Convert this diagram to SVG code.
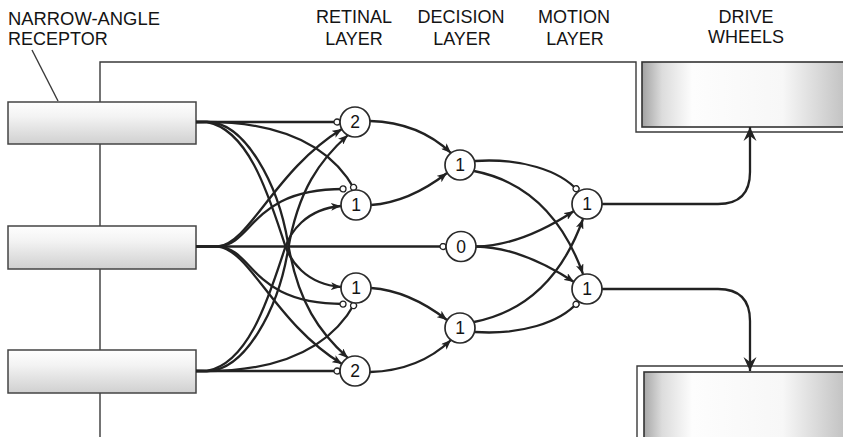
<svg xmlns="http://www.w3.org/2000/svg" width="843" height="437" viewBox="0 0 843 437">
  <style>
    .label { font-family: "Liberation Sans", Arial, sans-serif; font-size: 18px; fill: #141414; }
    .digit { font-family: "Liberation Sans", Arial, sans-serif; font-size: 17.5px; fill: #141414; text-anchor: middle; }
    .frame { fill: none; stroke: #3a3a3a; stroke-width: 1.4; }
    .receptor { fill: url(#receptorFill); stroke: #444; stroke-width: 1.5; }
    .wheel { fill: url(#wheelFill); stroke: #333; stroke-width: 1.6; }
    .neuron { fill: #fff; stroke: #2a2a2a; stroke-width: 1.7; }
    .wire { fill: none; stroke: #222; stroke-width: 2.3; }
    .exc { marker-end: url(#arrow); }
    .inh { marker-end: url(#inhibit); }
    .out { marker-end: url(#bigArrow); }
  </style>
  <defs>
    <linearGradient id="receptorFill" x1="0" y1="0" x2="0" y2="1">
      <stop offset="0" stop-color="#fefefe"/>
      <stop offset="0.35" stop-color="#f3f3f3"/>
      <stop offset="1" stop-color="#d0d0d0"/>
    </linearGradient>
    <linearGradient id="wheelFill" gradientUnits="userSpaceOnUse" x1="642" y1="0" x2="843" y2="0">
      <stop offset="0" stop-color="#a2a2a2"/>
      <stop offset="0.1" stop-color="#dcdcdc"/>
      <stop offset="0.25" stop-color="#fdfdfd"/>
      <stop offset="0.7" stop-color="#f7f7f7"/>
      <stop offset="1" stop-color="#c4c4c4"/>
    </linearGradient>
    <marker id="arrow" viewBox="0 0 10 8" markerWidth="10" markerHeight="8" refX="10" refY="4" orient="auto" markerUnits="userSpaceOnUse">
      <path d="M0,0 L10,4 L0,8 L2.5,4 Z" fill="#222"/>
    </marker>
    <marker id="bigArrow" viewBox="0 0 14 14" markerWidth="14" markerHeight="14" refX="14" refY="7" orient="auto" markerUnits="userSpaceOnUse">
      <path d="M0,0.5 L14,7 L0,13.5 L5,7 Z" fill="#222"/>
    </marker>
    <marker id="inhibit" viewBox="0 0 8 8" markerWidth="8" markerHeight="8" refX="7" refY="4" orient="auto" markerUnits="userSpaceOnUse">
      <circle cx="4" cy="4" r="3" fill="#fff" stroke="#222" stroke-width="1.3"/>
    </marker>
  </defs>

  <rect width="843" height="437" fill="#fff"/>

  <!-- labels -->
  <g id="labels">
    <text class="label" x="8" y="25" style="font-size:18.4px">NARROW-ANGLE</text>
    <text class="label" x="8" y="45">RECEPTOR</text>
    <text class="label" x="354" y="23" text-anchor="middle">RETINAL</text>
    <text class="label" x="354" y="45" text-anchor="middle">LAYER</text>
    <text class="label" x="461" y="23" text-anchor="middle">DECISION</text>
    <text class="label" x="462" y="45" text-anchor="middle">LAYER</text>
    <text class="label" x="574" y="23" text-anchor="middle">MOTION</text>
    <text class="label" x="575" y="45" text-anchor="middle">LAYER</text>
    <text class="label" x="746" y="23" text-anchor="middle">DRIVE</text>
    <text class="label" x="746" y="43" text-anchor="middle">WHEELS</text>
    <line x1="32" y1="50" x2="58" y2="101" stroke="#3a3a3a" stroke-width="1.4"/>
  </g>

  <!-- vehicle body outline -->
  <g id="body">
    <path class="frame" d="M100,437 V62 H636 V132 H843"/>
    <path class="frame" d="M637,437 V366 H843"/>
  </g>

  <!-- receptors -->
  <g id="receptor-top"><rect class="receptor" x="8" y="102" width="188" height="42"/></g>
  <g id="receptor-middle"><rect class="receptor" x="8" y="226" width="188" height="43"/></g>
  <g id="receptor-bottom"><rect class="receptor" x="8" y="350" width="188" height="43"/></g>

  <!-- drive wheels -->
  <g id="wheel-top"><rect class="wheel" x="642" y="62" width="210" height="65"/></g>
  <g id="wheel-bottom"><rect class="wheel" x="644" y="372" width="210" height="80"/></g>

  <g id="connectors">
    <!-- receptors to retinal layer -->
    <path class="wire inh" d="M196,122 H340"/>
    <path class="wire inh" d="M196,371 H340"/>
    <path class="wire inh" d="M196,122 C280,120 330,145 355,190"/>
    <path class="wire inh" d="M196,371 C280,373 330,348 355,303"/>
    <path class="wire inh" d="M196,246.5 H218 C255,244 250,188 346,189"/>
    <path class="wire inh" d="M196,246.5 H218 C255,249 250,305 346,304"/>
    <path class="wire exc" d="M218,246.5 C250,243 275,170 342,129"/>
    <path class="wire exc" d="M218,246.5 C250,250 275,323 342,364"/>
    <path class="wire exc" d="M196,371 H208 C245,370 278,310 288,250 C298,190 320,160 348,135"/>
    <path class="wire exc" d="M196,122 H208 C245,123 278,183 288,243 C298,303 320,333 348,358"/>
    <path class="wire exc" d="M196,122 H207 C250,130 270,200 285,245 C290,260 305,284 341,287"/>
    <path class="wire exc" d="M196,371 H207 C250,363 270,293 285,248 C290,233 305,209 341,206"/>
    <path class="wire inh" d="M196,246.5 H446"/>
    <!-- retinal to decision layer -->
    <path class="wire exc" d="M370,121 C405,122 430,133 451,153"/>
    <path class="wire exc" d="M370,372 C405,371 430,360 451,340"/>
    <path class="wire exc" d="M371,205 C400,203 425,190 447,173"/>
    <path class="wire exc" d="M371,288 C400,290 425,303 447,320"/>
    <!-- decision to motion layer -->
    <path class="wire inh" d="M475,161 C520,158 560,170 578,191"/>
    <path class="wire inh" d="M475,332 C520,335 560,323 578,302"/>
    <path class="wire exc" d="M474,171 C520,180 560,210 583,274"/>
    <path class="wire exc" d="M474,322 C520,313 560,283 583,219"/>
    <path class="wire exc" d="M476,246.5 C510,246 545,230 574,211"/>
    <path class="wire exc" d="M476,246.5 C510,247 545,263 574,282"/>
    <!-- motion layer to drive wheels -->
    <path class="wire out" d="M602,204 H718 Q750,204 750,172 V127"/>
    <path class="wire out" d="M602,289 H718 Q750,289 750,321 V371"/>
  </g>

  <!-- retinal layer -->
  <g id="retinal-1"><circle class="neuron" cx="355" cy="122" r="15"/><text class="digit" x="355" y="128">2</text></g>
  <g id="retinal-2"><circle class="neuron" cx="356" cy="205" r="15"/><text class="digit" x="356" y="211">1</text></g>
  <g id="retinal-3"><circle class="neuron" cx="356" cy="288" r="15"/><text class="digit" x="356" y="294">1</text></g>
  <g id="retinal-4"><circle class="neuron" cx="355" cy="371" r="15"/><text class="digit" x="355" y="377">2</text></g>
  <!-- decision layer -->
  <g id="decision-1"><circle class="neuron" cx="460" cy="165" r="15"/><text class="digit" x="460" y="171">1</text></g>
  <g id="decision-0"><circle class="neuron" cx="461" cy="246.5" r="15"/><text class="digit" x="461" y="252.5">0</text></g>
  <g id="decision-2"><circle class="neuron" cx="460" cy="328" r="15"/><text class="digit" x="460" y="334">1</text></g>
  <!-- motion layer -->
  <g id="motion-1"><circle class="neuron" cx="587" cy="204" r="15"/><text class="digit" x="587" y="210">1</text></g>
  <g id="motion-2"><circle class="neuron" cx="587" cy="289" r="15"/><text class="digit" x="587" y="295">1</text></g>
</svg>
